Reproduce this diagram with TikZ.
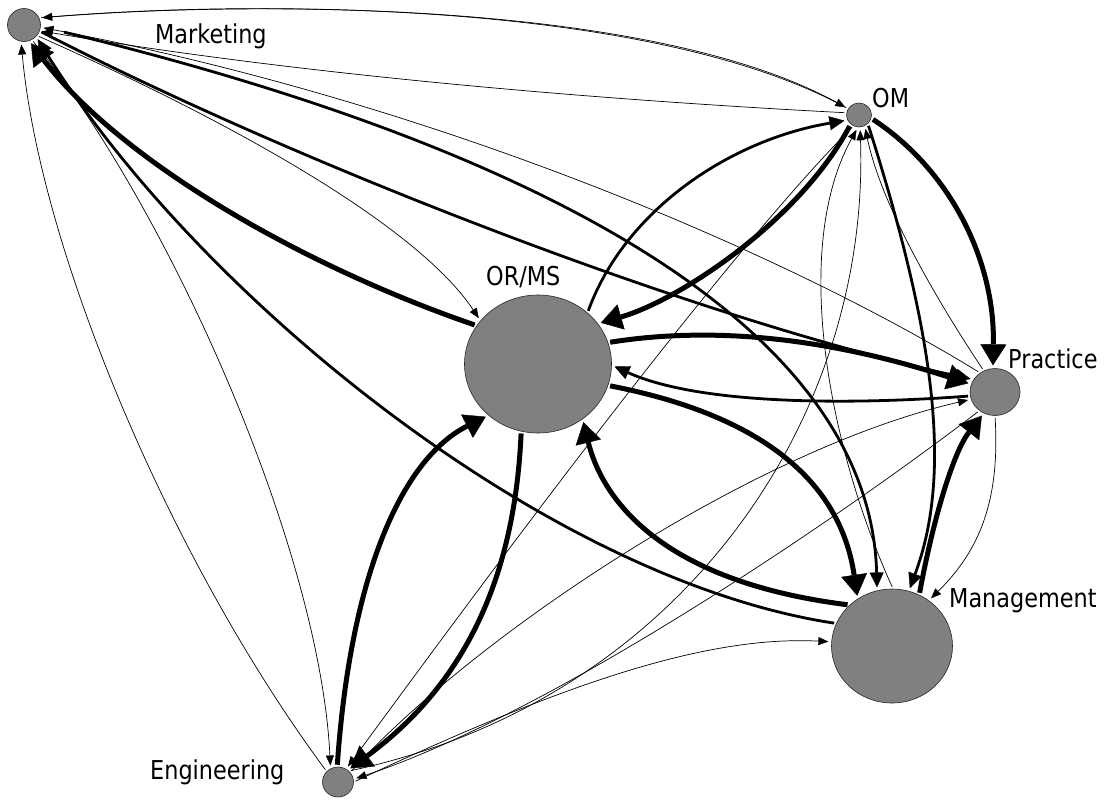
\documentclass[tikz,border=0pt]{standalone}
\usepackage{fontspec}
\newfontfamily\fieldfont{DejaVu Sans}[FakeStretch=0.86]
\usetikzlibrary{arrows.meta,shapes.geometric}

\tikzset{
  field/.style={ellipse,draw=black!85,line width=0.6pt,fill=black!50,inner sep=0pt},
  fieldname/.style={anchor=base west,inner sep=0pt,font=\fieldfont\fontsize{26}{30}\selectfont},
  flow/.style={line width=0.7pt,-{Triangle[length=10pt,width=8pt,line width=0.4pt]},
    shorten >=3pt,shorten <=2pt},
  midflow/.style={line width=2.8pt,-{Triangle[length=15pt,width=14pt,line width=0.4pt]},
    shorten >=3pt,shorten <=2pt},
  bigflow/.style={line width=5pt,-{Triangle[length=21pt,width=26pt,line width=0.4pt]},
    shorten >=3pt,shorten <=2pt},
}

\begin{document}
\begin{tikzpicture}[x=1pt,y=-1pt]
  \useasboundingbox (0,0) rectangle (1106,801);

  % fields
  \node[field,minimum width=33pt,minimum height=33pt] (mkt) at (24,25) {};
  \node[field,minimum width=25pt,minimum height=24pt] (om) at (859,115) {};
  \node[field,minimum width=147pt,minimum height=138pt] (orms) at (538,364) {};
  \node[field,minimum width=50pt,minimum height=47pt] (prac) at (995,392) {};
  \node[field,minimum width=121pt,minimum height=114pt] (mgmt) at (892,646) {};
  \node[field,minimum width=31pt,minimum height=30pt] (eng) at (338,782) {};

  \node[fieldname] (mkt-lab) at (155,43) {Marketing};
  \node[fieldname] (om-lab) at (872,107) {OM};
  \node[fieldname] (orms-lab) at (486,285) {OR/MS};
  \node[fieldname] (prac-lab) at (1008,368) {Practice};
  \node[fieldname] (mgmt-lab) at (949,607) {Management};
  \node[fieldname] (eng-lab) at (150,779) {Engineering};

  % Marketing
  \draw[flow] (mkt.25) .. controls (250,0) and (650,0) .. (om.150);
  \draw[flow] (om.150) .. controls (650,0) and (250,0) .. (mkt.25);
  \draw[flow] (om.170) .. controls (600,100) and (300,75) .. (mkt.-20);
  \draw[flow] (prac.128) .. controls (800,262) and (450,105) .. (mkt.-8);
  \draw[midflow,shorten <=24pt] (mkt.-5) .. controls (550,150) and (870,330) .. (mgmt.105);
  \draw[midflow] (mkt.-21) .. controls (300,165) and (700,320) .. (prac.150);
  \draw[flow] (mkt.-39) .. controls (250,130) and (420,230) .. (orms.143);
  \draw[flow] (mkt.-62) .. controls (170,210) and (320,550) .. (eng.119);
  \draw[flow] (eng.137) .. controls (170,560) and (40,250) .. (mkt.-100);
  \draw[bigflow] (orms.148) .. controls (300,265) and (120,160) .. (mkt.-72);
  \draw[midflow] (mgmt.158) .. controls (550,580) and (200,300) .. (mkt.-44);

  % OM
  \draw[midflow] (orms.46) .. controls (625,210) and (730,140) .. (om.204);
  \draw[bigflow] (om.-132) .. controls (800,220) and (680,300) .. (orms.34);
  \draw[bigflow] (om.-15) .. controls (950,170) and (995,260) .. (prac.95);
  \draw[flow] (prac.118) .. controls (930,290) and (880,200) .. (om.-62);
  \draw[midflow] (om.-45) .. controls (940,350) and (950,480) .. (mgmt.73);
  \draw[flow] (mgmt.89) .. controls (830,450) and (790,250) .. (om.-95);
  \draw[flow] (eng.45) .. controls (680,700) and (870,420) .. (om.-85);
  \draw[flow] (om.-117) .. controls (720,260) and (470,600) .. (eng.58);

  % OR/MS
  \draw[bigflow] (orms.17) .. controls (750,320) and (880,355) .. (prac.162);
  \draw[midflow] (prac.189) .. controls (850,405) and (700,405) .. (orms.-1.5);
  \draw[bigflow] (orms.-17) .. controls (760,415) and (840,480) .. (mgmt.126);
  \draw[bigflow] (mgmt.136) .. controls (650,580) and (600,490) .. (orms.-51);
  \draw[bigflow] (eng.93) .. controls (350,580) and (400,460) .. (orms.-134);
  \draw[bigflow] (orms.-104) .. controls (515,570) and (470,680) .. (eng.50);

  % Practice, Management, Engineering
  \draw[bigflow] (mgmt.62) .. controls (935,510) and (955,450) .. (prac.-118);
  \draw[flow] (prac.-90) .. controls (1000,500) and (980,550) .. (mgmt.51);
  \draw[flow] (prac.230) .. controls (850,510) and (560,710) .. (eng.10);
  \draw[flow] (eng.38) .. controls (470,640) and (750,450) .. (prac.197);
  \draw[flow] (eng.0) .. controls (550,690) and (700,635) .. (mgmt.176);
\end{tikzpicture}
\end{document}
